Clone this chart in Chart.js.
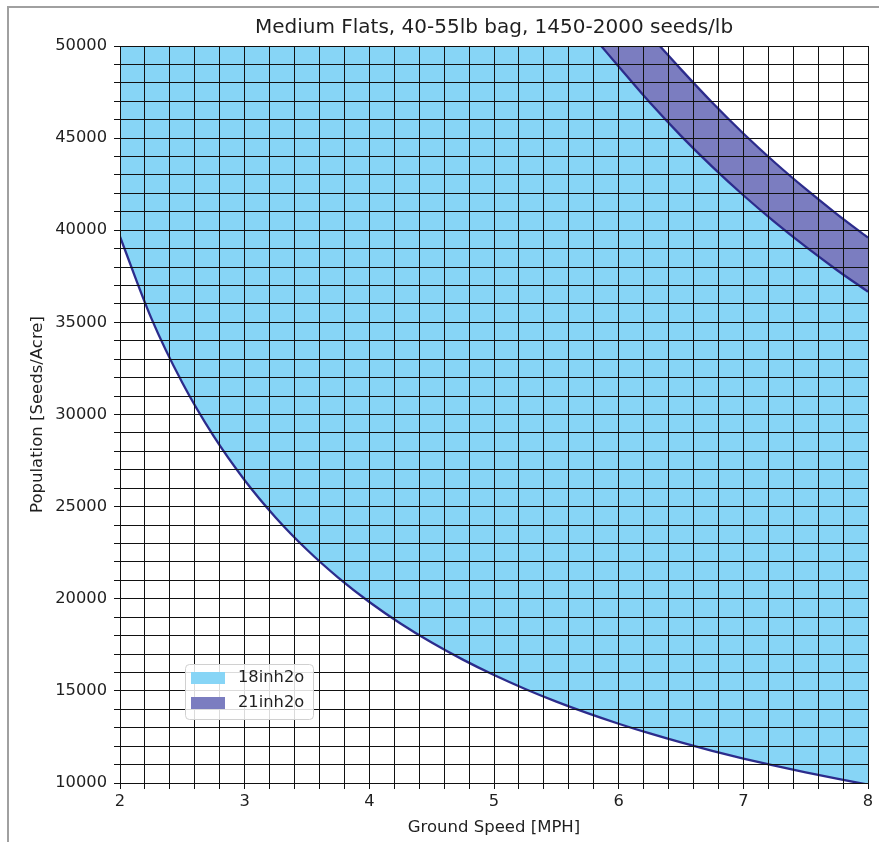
<!DOCTYPE html>
<html>
<head>
<meta charset="utf-8">
<script src="https://cdn.jsdelivr.net/npm/chart.js@4.4.1/dist/chart.umd.min.js"></script>
<style>
  body { margin: 0; background: #fff; }
  #wrap { position: relative; width: 879px; height: 842px; }
  #frame { position: absolute; left: 7px; top: 6px; right: 0; bottom: 0;
           border-left: 2px solid #a0a0a0; border-top: 2px solid #a0a0a0; pointer-events: none; }
</style>
</head>
<body>
<div id="wrap">
  <canvas id="chart"></canvas>
  <div id="frame"></div>
</div>
<script>
// lower edge of the 18inh2o band
const lowSpeed = [2, 2.25, 2.5, 2.75, 3, 3.25, 3.5, 3.75, 4, 4.25, 4.5, 4.75, 5,
                  5.25, 5.5, 5.75, 6, 6.25, 6.5, 6.75, 7, 7.25, 7.5, 7.75, 8];
const lowPop = [39650, 35244, 31720, 28836, 26433, 24400, 22657, 21147, 19825, 18659,
                17622, 16695, 15860, 15105, 14418, 13791, 13217, 12688, 12200, 11748,
                11329, 10938, 10573, 10232, 9913];

// top of 18inh2o / bottom of 21inh2o
const midSpeed = [5.86, 6, 6.25, 6.5, 6.75, 7, 7.25, 7.5, 7.75, 8];
const midPop = [50000, 48883, 46928, 45123, 43452, 41900, 40455, 39107, 37845, 36663];

// top of 21inh2o
const highSpeed = [6.33, 6.5, 6.75, 7, 7.25, 7.5, 7.75, 8];
const highPop = [50000, 48730, 46930, 45250, 43690, 42240, 40880, 39600];

const seriesLabels = ['18inh2o', '21inh2o'];
const seriesColors = ['#87d5f6', '#7b7dc0'];
const lineColor = '#2c2c8c';
const txt = '#1f1f1f';

function pts(xs, ys) {
  return xs.map((x, i) => ({x: x, y: ys[i]}));
}

const legendBox = {
  id: 'legendBox',
  afterDraw(chart) {
    const ctx = chart.ctx;
    const a = chart.chartArea;
    const x = a.left + 65, y = a.bottom - 119, w = 128, h = 55;
    ctx.save();
    ctx.beginPath();
    ctx.roundRect(x + 0.5, y + 0.5, w, h, 4);
    ctx.fillStyle = 'rgba(255,255,255,0.85)';
    ctx.fill();
    ctx.strokeStyle = '#d0d0d0';
    ctx.lineWidth = 1;
    ctx.stroke();
    ctx.font = '16.3px "DejaVu Sans"';
    ctx.textBaseline = 'middle';
    seriesLabels.forEach((lab, i) => {
      const cy = y + 14 + i * 25;
      ctx.fillStyle = seriesColors[i];
      ctx.fillRect(x + 6, cy - 6, 34, 12);
      ctx.fillStyle = txt;
      ctx.fillText(lab, x + 53, cy);
    });
    ctx.restore();
  }
};

new Chart(document.getElementById('chart'), {
  type: 'line',
  data: {
    datasets: [
      {
        label: seriesLabels[0],
        data: pts(lowSpeed, lowPop),
        borderColor: lineColor,
        borderWidth: 2.3,
        backgroundColor: seriesColors[0],
        fill: 'end',
        pointRadius: 0,
        cubicInterpolationMode: 'monotone',
        order: 3
      },
      {
        label: seriesLabels[1],
        data: pts(midSpeed, midPop),
        borderColor: lineColor,
        borderWidth: 2.3,
        backgroundColor: seriesColors[1],
        fill: 'end',
        pointRadius: 0,
        cubicInterpolationMode: 'monotone',
        order: 2
      },
      {
        label: 'upper',
        data: pts(highSpeed, highPop),
        borderColor: lineColor,
        borderWidth: 2.3,
        backgroundColor: '#ffffff',
        fill: 'end',
        pointRadius: 0,
        cubicInterpolationMode: 'monotone',
        order: 1
      }
    ]
  },
  options: {
    responsive: true,
    maintainAspectRatio: false,
    animation: false,
    layout: { padding: { left: 0, right: 11, top: 0, bottom: 0 } },
    plugins: {
      legend: { display: false },
      tooltip: { enabled: false },
      title: {
        display: true,
        text: 'Medium Flats, 40-55lb bag, 1450-2000 seeds/lb',
        fullSize: false,
        color: txt,
        font: { family: 'DejaVu Sans', size: 20, weight: 'normal' },
        padding: { top: 16, bottom: 6 }
      }
    },
    scales: {
      x: {
        type: 'linear',
        min: 2,
        max: 8,
        afterFit(s) { s.height = 59; },
        grid: { color: '#111', lineWidth: 1, tickLength: 6, z: 1 },
        border: { color: '#111', width: 1, z: 1 },
        ticks: {
          stepSize: 0.2,
          autoSkip: false,
          maxRotation: 0,
          padding: 3,
          color: txt,
          font: { family: 'DejaVu Sans', size: 16.3 },
          callback: v => Math.abs(v - Math.round(v)) < 1e-6 ? String(Math.round(v)) : ''
        },
        title: {
          display: true,
          text: 'Ground Speed [MPH]',
          color: txt,
          font: { family: 'DejaVu Sans', size: 16.5 },
          padding: { top: 4, bottom: 4 }
        }
      },
      y: {
        min: 10000,
        max: 50000,
        afterFit(s) { s.width = 120; },
        grid: { color: '#111', lineWidth: 1, tickLength: 6, z: 1 },
        border: { color: '#111', width: 1, z: 1 },
        ticks: {
          stepSize: 1000,
          autoSkip: false,
          maxTicksLimit: 100,
          padding: 7,
          color: txt,
          font: { family: 'DejaVu Sans', size: 16.3 },
          callback: v => v % 5000 === 0 ? String(v) : ''
        },
        title: {
          display: true,
          text: 'Population [Seeds/Acre]',
          color: txt,
          font: { family: 'DejaVu Sans', size: 16.5 },
          padding: { top: 28, bottom: 4 }
        }
      }
    }
  },
  plugins: [legendBox]
});
</script>
</body>
</html>
